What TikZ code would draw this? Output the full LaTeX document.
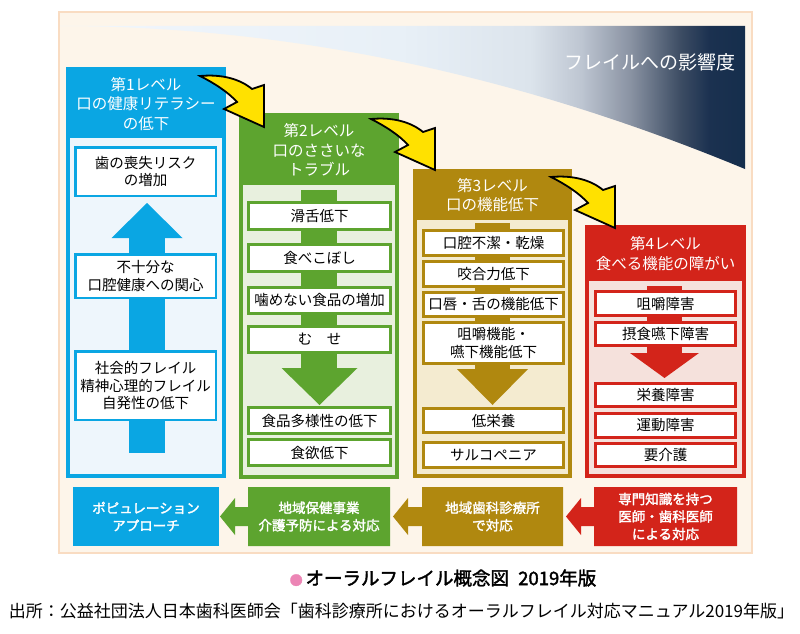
\documentclass[tikz,border=0pt]{standalone}
\usepackage{fontspec}
\newfontfamily\jp{Noto Sans CJK JP}
\newfontfamily\jpb{Noto Sans CJK JP}[FakeBold=2]
\definecolor{bgc}{HTML}{FDF5EA}
\definecolor{bgl}{HTML}{F9DCC2}
\definecolor{cblue}{HTML}{0AA6E3}
\definecolor{lblue}{HTML}{EEF6FC}
\definecolor{cgreen}{HTML}{5DA42F}
\definecolor{lgreen}{HTML}{E8F0DE}
\definecolor{cgold}{HTML}{B0880F}
\definecolor{lgold}{HTML}{F4EBD0}
\definecolor{cred}{HTML}{D3241A}
\definecolor{lred}{HTML}{F5E1DC}
\definecolor{cyel}{HTML}{FFE100}
\definecolor{cpink}{HTML}{EC85B5}
\definecolor{g0}{HTML}{F1F6FC}
\definecolor{g1}{HTML}{E8F0F7}
\definecolor{g2}{HTML}{DCE4EC}
\definecolor{g3}{HTML}{BEC6D2}
\definecolor{g4}{HTML}{8A93A3}
\definecolor{g5}{HTML}{3C4C63}
\definecolor{g6}{HTML}{1B3150}
\definecolor{g7}{HTML}{152E4C}
\pgfdeclarehorizontalshading{frail}{100bp}{color(0bp)=(g0); color(25bp)=(g0); color(49.8bp)=(g1); color(59.3bp)=(g2); color(63bp)=(g3); color(66.6bp)=(g4); color(70.3bp)=(g5); color(72.4bp)=(g6); color(75bp)=(g7); color(100bp)=(g7)}
\tikzset{
  ibox/.style={draw=#1, fill=white, line width=2.5pt, inner sep=0pt, align=center,
    font=\jp\fontsize{14.5}{17.5}\selectfont, text=black},
  hdr/.style={text=white, align=center, inner sep=0pt, font=\jp\fontsize{15.5}{19.5}\selectfont},
  btxt/.style={text=white, align=center, inner sep=0pt, font=\jpb\fontsize{13.5}{17.5}\selectfont},
  yarrow/.pic={
    \draw[fill=cyel, draw=black, line width=1.8pt, line join=miter]
      (0,0) .. controls (22,-2) and (40,3) .. (52,13) -- (64,9) -- (64,51) -- (24,33) -- (37,26)
      .. controls (28,16) and (14,7) .. (0,0) -- cycle;
  }
}
\begin{document}
\begin{tikzpicture}[x=1pt,y=-1pt]
\useasboundingbox (0,0) rectangle (800,634);
\fill[white] (0,0) rectangle (800,634);
% background panel
\draw[fill=bgc, draw=bgl, line width=1.5pt] (59,12) rectangle (752,553);
% gradient band
\shade[shading=frail] (60,26) -- (745,26) -- (745,169) .. controls (516.7,74.3) and (288.3,26) .. (60,26) -- cycle;
\node[text=white, inner sep=0pt, font=\jp\fontsize{19}{22}\selectfont] (impact) at (650,62) {フレイルへの影響度};

% ---------- Level 1 ----------
\fill[cblue] (66,67) rectangle (226,478);
\fill[lblue] (70,138) rectangle (222,474);
\node[hdr] (h1) at (146,104) {第1レベル\\口の健康リテラシー\\の低下};
\fill[cblue] (129,238) rectangle (165,453);
\fill[cblue] (111.5,238) -- (182.5,238) -- (147,203) -- cycle;
\node[ibox=cblue, minimum width=140.5pt, minimum height=48.5pt] (a1) at (145.5,171.5) {歯の喪失リスク\\の増加};
\node[ibox=cblue, minimum width=140.5pt, minimum height=43.5pt] (a2) at (145.5,276) {不十分な\\口腔健康への関心};
\node[ibox=cblue, minimum width=140.5pt, minimum height=68.5pt] (a3) at (145.5,385.5) {社会的フレイル\\精神心理的フレイル\\自発性の低下};

% ---------- Level 2 ----------
\fill[cgreen] (239,113) rectangle (399,479);
\fill[lgreen] (243,185) rectangle (395,475);
\node[hdr] (h2) at (319,150) {第2レベル\\口のささいな\\トラブル};
\fill[cgreen] (301,190) rectangle (337,368);
\fill[cgreen] (281.5,368) -- (357.5,368) -- (319.5,405) -- cycle;
\node[ibox=cgreen, line width=3pt, minimum width=142pt, minimum height=27pt] (b1) at (319.5,216) {滑舌低下};
\node[ibox=cgreen, line width=3pt, minimum width=142pt, minimum height=27pt] (b2) at (319.5,258) {食べこぼし};
\node[ibox=cgreen, line width=3pt, minimum width=142pt, minimum height=26pt] (b3) at (319.5,300) {噛めない食品の増加};
\node[ibox=cgreen, line width=3pt, minimum width=142pt, minimum height=26pt] (b4) at (319.5,339.5) {む　せ};
\node[ibox=cgreen, line width=3pt, minimum width=142pt, minimum height=26pt] (b5) at (319.5,420.5) {食品多様性の低下};
\node[ibox=cgreen, line width=3pt, minimum width=142pt, minimum height=26pt] (b6) at (319.5,452.5) {食欲低下};

% ---------- Level 3 ----------
\fill[cgold] (413,169) rectangle (572,478);
\fill[lgold] (417,220) rectangle (568,474);
\node[hdr] (h3) at (492.5,195) {第3レベル\\口の機能低下};
\fill[cgold] (475,223) rectangle (510,369);
\fill[cgold] (457,369) -- (528,369) -- (492.5,405) -- cycle;
\node[ibox=cgold, line width=3pt, minimum width=140pt, minimum height=25pt] (c1) at (493.5,243) {口腔不潔・乾燥};
\node[ibox=cgold, line width=3pt, minimum width=140pt, minimum height=25pt] (c2) at (493.5,274) {咬合力低下};
\node[ibox=cgold, line width=3pt, minimum width=140pt, minimum height=24pt] (c3) at (493.5,304.5) {口唇・舌の機能低下};
\node[ibox=cgold, line width=3pt, minimum width=140pt, minimum height=41pt] (c4) at (493.5,343) {咀嚼機能・\\嚥下機能低下};
\node[ibox=cgold, line width=3pt, minimum width=140pt, minimum height=24pt] (c5) at (493.5,420.5) {低栄養};
\node[ibox=cgold, line width=3pt, minimum width=140pt, minimum height=25pt] (c6) at (493.5,455) {サルコペニア};

% ---------- Level 4 ----------
\fill[cred] (585,225) rectangle (746,478);
\fill[lred] (589,281) rectangle (742,474);
\node[hdr] (h4) at (665.5,253.5) {第4レベル\\食べる機能の障がい};
\fill[cred] (647,286) rectangle (682,353);
\fill[cred] (630,353) -- (699,353) -- (664.5,378) -- cycle;
\node[ibox=cred, line width=3pt, minimum width=140pt, minimum height=24pt] (d1) at (665.5,303.5) {咀嚼障害};
\node[ibox=cred, line width=3pt, minimum width=140pt, minimum height=23pt] (d2) at (665.5,334) {摂食嚥下障害};
\node[ibox=cred, line width=3pt, minimum width=140pt, minimum height=23pt] (d3) at (665.5,395) {栄養障害};
\node[ibox=cred, line width=3pt, minimum width=140pt, minimum height=24pt] (d4) at (665.5,425.5) {運動障害};
\node[ibox=cred, line width=3pt, minimum width=140pt, minimum height=23pt] (d5) at (665.5,455) {要介護};

% ---------- yellow curved arrows ----------
\pic at (200,76) {yarrow};
\pic at (371,119) {yarrow};
\pic at (551,177) {yarrow};

% ---------- bottom row ----------
\fill[cblue] (73,487) rectangle (219,546);
\node[btxt] (e1) at (146,516.5) {ポピュレーション\\アプローチ};
\fill[cgreen] (248,487) -- (390,487) -- (390,546) -- (248,546) -- (248,526) -- (235,526) -- (235,535) -- (220,516.5) -- (235,498) -- (235,507) -- (248,507) -- cycle;
\node[btxt] (e2) at (319,516.5) {地域保健事業\\介護予防による対応};
\fill[cgold] (422,487) -- (563,487) -- (563,546) -- (422,546) -- (422,526) -- (408,526) -- (408,535) -- (393,516.5) -- (408,498) -- (408,507) -- (422,507) -- cycle;
\node[btxt] (e3) at (492.5,516.5) {地域歯科診療所\\で対応};
\fill[cred] (594,487) -- (737,487) -- (737,546) -- (594,546) -- (594,526) -- (581,526) -- (581,535) -- (566,516.5) -- (581,498) -- (581,507) -- (594,507) -- cycle;
\node[btxt] (e4) at (665.5,516.5) {専門知識を持つ\\医師・歯科医師\\による対応};

% ---------- captions ----------
\node[inner sep=0pt, font=\jpb\fontsize{18.5}{20}\selectfont] (cap1) at (443,578) {{\fontsize{13}{13}\selectfont\textcolor{cpink}{●}}\hspace{0.15em}オーラルフレイル概念図\hspace{0.5em}2019年版};
\node[inner sep=0pt, font=\jp\fontsize{17}{20}\selectfont] (cap2) at (401.5,611) {出所：公益社団法人日本歯科医師会「歯科診療所におけるオーラルフレイル対応マニュアル2019年版」};
\end{tikzpicture}
\end{document}
